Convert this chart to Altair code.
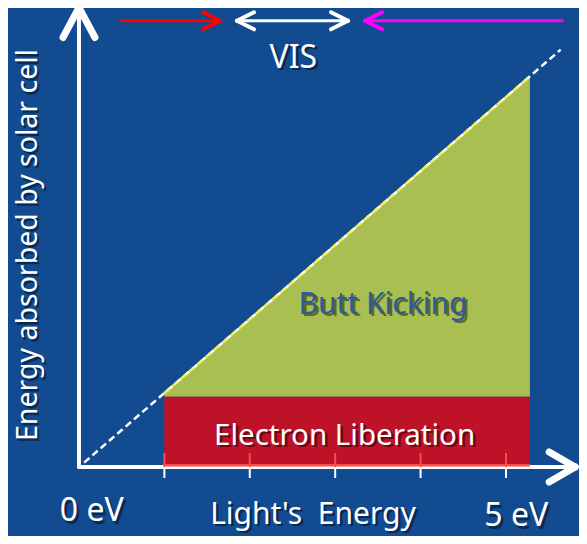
import altair as alt
import pandas as pd

# ---------------- data (energies in eV) ----------------
tick_ev = [1, 2, 3, 4, 5]                 # x-axis tick marks
band_x = [1.0, 5.28]                      # photon energies covered by the coloured blocks
band_top = 0.95                           # electron liberation energy (band gap)
diag_end = 5.64                           # end of the dashed "absorbed = light energy" line
ir_arrow = [0.50, 1.65]                   # red (IR) arrow span
vis_arrow = [1.85, 3.15]                  # white (VIS) double arrow span
uv_arrow = [3.35, 5.66]                   # magenta (UV) arrow span
arrow_row = 6.03                          # height of the spectrum arrows
x_axis_end = 5.81
y_axis_end = 6.21

label_text = ["VIS", "Energy absorbed by solar cell", "Butt Kicking",
              "Electron Liberation", "0 eV", "Light's\u00a0\u00a0Energy", "5 eV"]
label_x = [2.51, -0.597, 3.56, 3.11, 0.15, 2.74, 5.12]
label_y = [5.53, 3.00, 2.19, 0.42, -0.60, -0.645, -0.665]
label_size = [32, 28.5, 30, 29.5, 32, 30, 32]

# ---------------- geometry / style ----------------
PX_X, PX_Y = 85.4, 74.0
W, H = 571, 528
X_DOMAIN = [-0.831, 5.855]
Y_DOMAIN = [-0.932, 6.203]
BG = "#124b8f"
GREEN = "#aabf52"
RED = "#be1229"
PINK = "#ff4a4a"

xs = alt.Scale(domain=X_DOMAIN, nice=False, zero=False)
ys = alt.Scale(domain=Y_DOMAIN, nice=False, zero=False)


def X(f="x"):
    return alt.X(f"{f}:Q", scale=xs, axis=None)


def Y(f="y"):
    return alt.Y(f"{f}:Q", scale=ys, axis=None)


# green "butt kicking" region: under the diagonal, above the band
area_df = pd.DataFrame({"x": band_x, "y": band_x, "y2": [band_top, band_top]})
green = alt.Chart(area_df).mark_area(color=GREEN, opacity=1).encode(
    x=X(), y=Y(), y2="y2:Q")

# red "electron liberation" block
rect_df = pd.DataFrame({"x": [band_x[0]], "x2": [band_x[1]], "y": [0.0], "y2": [band_top]})
red = alt.Chart(rect_df).mark_rect(color=RED).encode(
    x=X(), x2="x2:Q", y=Y(), y2="y2:Q")

# segments: (x, y, x2, y2, color, width)
segs = []


def seg(x, y, x2, y2, c, w):
    segs.append(dict(x=x, y=y, x2=x2, y2=y2, c=c, w=w))


def head(tx, ty, dx_sign, dy_sign, back_px, half_px, c, w):
    """chevron arrow head; dx_sign/dy_sign give the pointing direction"""
    if dx_sign != 0:
        bx = tx - dx_sign * back_px / PX_X
        seg(bx, ty + half_px / PX_Y, tx, ty, c, w)
        seg(bx, ty - half_px / PX_Y, tx, ty, c, w)
    else:
        by = ty - dy_sign * back_px / PX_Y
        seg(tx - half_px / PX_X, by, tx, ty, c, w)
        seg(tx + half_px / PX_X, by, tx, ty, c, w)


# axes
seg(0, 0, x_axis_end, 0, "white", 4)
seg(0, 0, 0, y_axis_end, "white", 4)
head(x_axis_end, 0, 1, 0, 26, 15, "white", 7)
head(0, y_axis_end, 0, 1, 30, 16, "white", 7)

# spectrum arrows
seg(ir_arrow[0], arrow_row, ir_arrow[1], arrow_row, "#ff0000", 3)
head(ir_arrow[1], arrow_row, 1, 0, 17, 8.5, "#ff0000", 4)
seg(vis_arrow[0], arrow_row, vis_arrow[1], arrow_row, "white", 3)
head(vis_arrow[0], arrow_row, -1, 0, 17, 8.5, "white", 4)
head(vis_arrow[1], arrow_row, 1, 0, 17, 8.5, "white", 4)
seg(uv_arrow[0], arrow_row, uv_arrow[1], arrow_row, "#ff00ff", 3)
head(uv_arrow[0], arrow_row, -1, 0, 17, 8.5, "#ff00ff", 4)

seg_df = pd.DataFrame(segs)
axes = alt.Chart(seg_df).mark_rule(strokeCap="round").encode(
    x=X(), x2="x2:Q", y=Y(), y2="y2:Q",
    color=alt.Color("c:N", scale=None),
    strokeWidth=alt.StrokeWidth("w:Q", scale=None))

# pink edge at bottom of red block
edge_df = pd.DataFrame({"x": [band_x[0]], "x2": [band_x[1]], "y": [0.025], "y2": [0.025]})
edge = alt.Chart(edge_df).mark_rule(color=PINK, strokeWidth=2.5).encode(
    x=X(), x2="x2:Q", y=Y(), y2="y2:Q")

# ticks: pink above axis, white below
tick_df = pd.DataFrame({"x": tick_ev})
ticks_up = alt.Chart(tick_df).mark_rule(color=PINK, strokeWidth=2).encode(
    x=X(), y=alt.value(459 - 14), y2=alt.value(459))
ticks_dn = alt.Chart(tick_df).mark_rule(color="white", strokeWidth=2).encode(
    x=X(), y=alt.value(459), y2=alt.value(459 + 11))

# dashed diagonal: white over blue, yellowish over the green area
diag_df = pd.DataFrame({"x": [0.06], "x2": [diag_end], "y": [0.06], "y2": [diag_end]})
diag = alt.Chart(diag_df).mark_rule(color="white", strokeWidth=2.5,
                                    strokeDash=[7, 4]).encode(
    x=X(), x2="x2:Q", y=Y(), y2="y2:Q")
diag_g_df = pd.DataFrame({"x": [band_x[0]], "x2": [band_x[1]],
                          "y": [band_x[0]], "y2": [band_x[1]]})
diag_g = alt.Chart(diag_g_df).mark_rule(color="#f4f25a", strokeWidth=2.5,
                                        strokeDash=[7, 4]).encode(
    x=X(), x2="x2:Q", y=Y(), y2="y2:Q")

# labels
lab = pd.DataFrame({
    "t": label_text, "x": label_x, "y": label_y,
    "a": [0, 270, 0, 0, 0, 0, 0],
    "s": label_size,
    "c": ["white", "white", "#2c5b9a", "white", "white", "white", "white"],
})
lab["sx"] = lab["x"] + 2.5 / PX_X
lab["sy"] = lab["y"] - 2.5 / PX_Y

FONT = "Noto Sans"
shadow = alt.Chart(lab).mark_text(font=FONT, baseline="middle", align="center",
                                  color="#000000", opacity=0.45).encode(
    x=X("sx"), y=Y("sy"), text="t:N",
    angle=alt.Angle("a:Q", scale=None), size=alt.Size("s:Q", scale=None))
texts = alt.Chart(lab).mark_text(font=FONT, baseline="middle", align="center").encode(
    x=X(), y=Y(), text="t:N",
    angle=alt.Angle("a:Q", scale=None), size=alt.Size("s:Q", scale=None),
    color=alt.Color("c:N", scale=None))

chart = alt.layer(green, red, axes, edge, ticks_up, ticks_dn, diag, diag_g, shadow, texts).properties(
    width=W, height=H, padding=0, autosize=alt.AutoSizeParams(type="none"),
    background=BG,
).configure_view(stroke=None, fill=BG)

chart.save("out.html", embed_options={"renderer": "svg", "actions": False})
